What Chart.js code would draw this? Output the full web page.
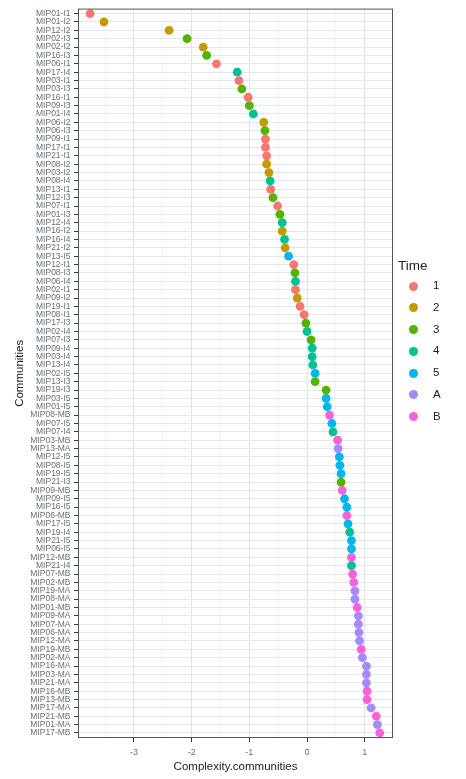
<!DOCTYPE html>
<html>
<head>
<meta charset="utf-8">
<script src="https://cdn.jsdelivr.net/npm/chart.js@4.4.1/dist/chart.umd.min.js"></script>
<style>
  html, body { margin: 0; padding: 0; background: #fff; }
  #wrap { position: relative; width: 466px; height: 779px; }
  #legend { position: absolute; left: 398px; top: 257px; font-family: "Liberation Sans", Arial, sans-serif; color: #222; }
  #legend .title { font-size: 13.5px; height: 18px; line-height: 18px; }
  #legend .row { position: relative; height: 21.8px; }
  #legend .dot { position: absolute; left: 11px; top: 6.5px; width: 9px; height: 9px; border-radius: 50%; }
  #legend .lab { position: absolute; left: 35px; top: 0; line-height: 21.8px; font-size: 11.5px; }
</style>
</head>
<body>
<div id="wrap">
  <canvas id="chart" width="466" height="779"></canvas>
  <div id="legend"></div>
</div>
<script>
// Communities, top to bottom
const communities = [
  "MIP01-I1","MIP01-I2","MIP12-I2","MIP02-I3","MIP02-I2","MIP16-I3","MIP06-I1","MIP17-I4",
  "MIP03-I1","MIP03-I3","MIP16-I1","MIP09-I3","MIP01-I4","MIP06-I2","MIP06-I3","MIP09-I1",
  "MIP17-I1","MIP21-I1","MIP08-I2","MIP03-I2","MIP08-I4","MIP13-I1","MIP12-I3","MIP07-I1",
  "MIP01-I3","MIP12-I4","MIP16-I2","MIP16-I4","MIP21-I2","MIP13-I5","MIP12-I1","MIP08-I3",
  "MIP06-I4","MIP02-I1","MIP09-I2","MIP19-I1","MIP08-I1","MIP17-I3","MIP02-I4","MIP07-I3",
  "MIP09-I4","MIP03-I4","MIP13-I4","MIP02-I5","MIP13-I3","MIP19-I3","MIP03-I5","MIP01-I5",
  "MIP08-MB","MIP07-I5","MIP07-I4","MIP03-MB","MIP13-MA","MIP12-I5","MIP08-I5","MIP19-I5",
  "MIP21-I3","MIP09-MB","MIP09-I5","MIP16-I5","MIP06-MB","MIP17-I5","MIP19-I4","MIP21-I5",
  "MIP06-I5","MIP12-MB","MIP21-I4","MIP07-MB","MIP02-MB","MIP19-MA","MIP08-MA","MIP01-MB",
  "MIP09-MA","MIP07-MA","MIP06-MA","MIP12-MA","MIP19-MB","MIP02-MA","MIP16-MA","MIP03-MA",
  "MIP21-MA","MIP16-MB","MIP13-MB","MIP17-MA","MIP21-MB","MIP01-MA","MIP17-MB"
];

// Complexity.communities, same order
const complexity = [
  -3.76, -3.52, -2.39, -2.08, -1.80, -1.74, -1.57, -1.21,
  -1.18, -1.13, -1.02, -1.00, -0.93, -0.75, -0.73, -0.72,
  -0.72, -0.70, -0.70, -0.66, -0.64, -0.63, -0.59, -0.51,
  -0.47, -0.43, -0.43, -0.39, -0.38, -0.32, -0.23, -0.21,
  -0.20, -0.20, -0.17, -0.12, -0.05, -0.02, 0.00, 0.07,
  0.09, 0.09, 0.10, 0.14, 0.14, 0.33, 0.33, 0.35,
  0.39, 0.43, 0.45, 0.53, 0.54, 0.56, 0.57, 0.59,
  0.59, 0.61, 0.65, 0.69, 0.69, 0.71, 0.74, 0.77,
  0.77, 0.77, 0.77, 0.79, 0.81, 0.83, 0.83, 0.87,
  0.89, 0.89, 0.90, 0.91, 0.94, 0.96, 1.03, 1.03,
  1.03, 1.04, 1.04, 1.11, 1.20, 1.22, 1.26
];

// Time of each community (colour)
const times = [
  "1","2","2","3","2","3","1","4",
  "1","3","1","3","4","2","3","1",
  "1","1","2","2","4","1","3","1",
  "3","4","2","4","2","5","1","3",
  "4","1","2","1","1","3","4","3",
  "4","4","4","5","3","3","5","5",
  "B","5","4","B","A","5","5","5",
  "3","B","5","5","B","5","4","5",
  "5","B","4","B","B","A","A","B",
  "A","A","A","A","B","A","A","A",
  "A","B","B","A","B","A","B"
];

const timeLevels = ["1", "2", "3", "4", "5", "A", "B"];
const timeColors = ["#F8766D", "#C49A00", "#53B400", "#00C094", "#00B6EB", "#A58AFF", "#FB61D7"];

// x axis breaks
const xBreaks = [-3, -2, -1, 0, 1];
const xMinorBreaks = [-3.5, -2.5, -1.5, -0.5, 0.5];

Chart.defaults.font.family = "'Liberation Sans', Arial, sans-serif";

const datasets = timeLevels.map((lvl, k) => ({
  label: lvl,
  data: communities
    .map((c, i) => ({ x: complexity[i], y: i + 1, t: times[i] }))
    .filter(p => p.t === lvl),
  backgroundColor: timeColors[k],
  borderWidth: 0,
  pointRadius: 4.4,
  pointHoverRadius: 4.4
}));

const panelBorder = {
  id: "panelBorder",
  afterDraw(chart) {
    const { ctx, chartArea: a } = chart;
    ctx.save();
    ctx.strokeStyle = "#5a5452";
    ctx.lineWidth = 1;
    ctx.strokeRect(a.left + 0.5, a.top + 0.5, a.right - a.left - 1, a.bottom - a.top - 1);
    ctx.restore();
  }
};

new Chart("chart", {
  type: "scatter",
  data: { datasets: datasets },
  plugins: [panelBorder],
  options: {
    responsive: false,
    animation: false,
    events: [],
    layout: { padding: { top: 7, right: 73, left: 0, bottom: 0 } },
    plugins: { legend: { display: false }, tooltip: { enabled: false } },
    scales: {
      x: {
        type: "linear",
        min: -3.97,
        max: 1.49,
        afterBuildTicks: s => {
          s.ticks = xBreaks.concat(xMinorBreaks).sort((a, b) => a - b).map(v => ({ value: v }));
        },
        afterFit: s => { s.height = 41; },
        ticks: {
          autoSkip: false,
          padding: 5,
          color: "#66707c",
          font: { size: 9 },
          callback: v => xBreaks.includes(v) ? String(v) : ""
        },
        grid: {
          color: c => xBreaks.includes(c.tick.value) ? "#dfe6ec" : "#edf1f4",
          lineWidth: c => xBreaks.includes(c.tick.value) ? 1 : 0.7,
          tickColor: c => xBreaks.includes(c.tick.value) ? "#333" : "rgba(0,0,0,0)",
          tickLength: 4
        },
        border: { display: false },
        title: {
          display: true,
          text: "Complexity.communities",
          color: "#222",
          font: { size: 11.5 },
          padding: { top: 0, bottom: 5 }
        }
      },
      y: {
        type: "linear",
        reverse: true,
        min: 0.4,
        max: 87.6,
        afterBuildTicks: s => {
          s.ticks = communities.map((c, i) => ({ value: i + 1 }));
        },
        afterFit: s => { s.width = 78; },
        ticks: {
          autoSkip: false,
          padding: 3.5,
          color: "#66707c",
          font: { size: 8.5 },
          callback: v => communities[v - 1]
        },
        grid: {
          color: "#e2e8ee",
          lineWidth: 1,
          tickColor: "#333",
          tickLength: 4
        },
        border: { display: false },
        title: {
          display: true,
          text: "Communities",
          color: "#222",
          font: { size: 11.5 },
          padding: { top: 13, bottom: 0 }
        }
      }
    }
  }
});

// legend
const legend = document.getElementById("legend");
let html = '<div class="title">Time</div>';
timeLevels.forEach((lvl, k) => {
  html += '<div class="row"><span class="dot" style="background:' + timeColors[k] + '"></span><span class="lab">' + lvl + '</span></div>';
});
legend.innerHTML = html;
</script>
</body>
</html>
